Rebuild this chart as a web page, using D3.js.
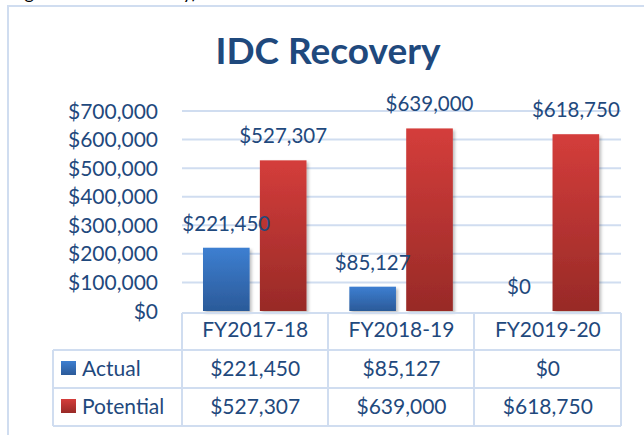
<!DOCTYPE html>
<html>
<head>
<meta charset="utf-8">
<script src="https://cdn.jsdelivr.net/npm/d3@7"></script>
<style>
  body { margin: 0; background: #fff; }
  svg { display: block; }
  text { font-family: Lato, "Open Sans", sans-serif; }
</style>
</head>
<body>
<div id="chart"></div>
<script>
// chart data
const categories = ["FY2017-18", "FY2018-19", "FY2019-20"];
const seriesNames = ["Actual", "Potential"];
const actual = [221450, 85127, 0];
const potential = [527307, 639000, 618750];
const yTicks = [0, 100000, 200000, 300000, 400000, 500000, 600000, 700000];

const W = 644, H = 435;
const textColor = "#1f497d";
const lineColor = "#d0ddf0";
const fmt = d => "$" + d3.format(",")(d);

const svg = d3.select("#chart").append("svg")
  .attr("width", W).attr("height", H);

// gradients + shadow
const defs = svg.append("defs");
function grad(id, top, bottom) {
  const g = defs.append("linearGradient").attr("id", id)
    .attr("x1", 0).attr("y1", 0).attr("x2", 0).attr("y2", 1);
  g.append("stop").attr("offset", "0%").attr("stop-color", top);
  g.append("stop").attr("offset", "100%").attr("stop-color", bottom);
}
grad("gActual", "#3d7fd1", "#2b5a99");
grad("gPotential", "#d43d3b", "#982a27");
defs.append("filter").attr("id", "shadow")
  .attr("x", "-20%").attr("y", "-10%").attr("width", "150%").attr("height", "130%")
  .append("feDropShadow")
  .attr("dx", 2).attr("dy", 2).attr("stdDeviation", 1.5)
  .attr("flood-color", "#000").attr("flood-opacity", 0.25);
const fills = { Actual: "url(#gActual)", Potential: "url(#gPotential)" };

// caption above the frame, mostly cut off by the top edge
svg.append("text")
  .attr("x", 10).attr("y", -1)
  .attr("font-size", 18).attr("fill", "#000")
  .text("Figure 6: IDC Recovery)");

// chart frame (runs off the right / bottom)
svg.append("rect")
  .attr("x", 8).attr("y", 6).attr("width", 700).attr("height", 500)
  .attr("fill", "none").attr("stroke", lineColor).attr("stroke-width", 2);

// title
svg.append("text")
  .attr("x", 328).attr("y", 64)
  .attr("text-anchor", "middle")
  .attr("font-size", 37).attr("font-weight", "bold")
  .attr("fill", textColor)
  .text("IDC Recovery");

// scales
const x0 = d3.scaleBand().domain(categories).range([182, 621]);
const x1 = d3.scaleBand().domain(seriesNames).range([21, 124.5]).paddingInner(0.18);
const y = d3.scaleLinear().domain([0, 700000]).range([311, 111]);

// gridlines
svg.append("g").selectAll("line")
  .data(yTicks.filter(d => d > 0))
  .enter().append("line")
    .attr("x1", 182).attr("x2", 621)
    .attr("y1", d => y(d)).attr("y2", d => y(d))
    .attr("stroke", lineColor).attr("stroke-width", 2);

// y axis labels
const yAxis = svg.append("g")
  .attr("transform", "translate(158,0)")
  .call(d3.axisLeft(y).tickValues(yTicks).tickFormat(fmt).tickSize(0).tickPadding(0));
yAxis.select(".domain").remove();
yAxis.selectAll("text")
  .attr("font-family", "Lato, sans-serif")
  .attr("font-size", 21).attr("fill", textColor)
  .attr("dy", "0.34em");

// bars
const rows = categories.map((c, i) => ({
  cat: c,
  vals: [{ s: "Actual", v: actual[i] }, { s: "Potential", v: potential[i] }]
}));

const groups = svg.append("g").selectAll("g")
  .data(rows).enter().append("g")
  .attr("transform", d => "translate(" + x0(d.cat) + ",0)");

groups.selectAll("rect")
  .data(d => d.vals.filter(v => v.v > 0))
  .enter().append("rect")
    .attr("x", d => x1(d.s))
    .attr("y", d => y(d.v))
    .attr("width", x1.bandwidth())
    .attr("height", d => y(0) - y(d.v))
    .attr("fill", d => fills[d.s])
    .attr("filter", "url(#shadow)");

groups.selectAll("text")
  .data(d => d.vals)
  .enter().append("text")
    .attr("x", d => x1(d.s) + x1.bandwidth() / 2)
    .attr("y", d => y(d.v) - 17)
    .attr("text-anchor", "middle")
    .attr("font-size", 20.5).attr("fill", textColor)
    .text(d => fmt(d.v));

// data table
const table = svg.append("g")
  .attr("stroke", lineColor).attr("stroke-width", 2).attr("fill", "none");
const colEdges = [182, 328, 474, 621];
table.append("line").attr("x1", 182).attr("x2", 621).attr("y1", 313).attr("y2", 313);
[350, 388, 426].forEach(yy => {
  table.append("line").attr("x1", 53).attr("x2", 621).attr("y1", yy).attr("y2", yy);
});
colEdges.forEach(xx => {
  table.append("line").attr("x1", xx).attr("x2", xx).attr("y1", 313).attr("y2", 426);
});
table.append("line").attr("x1", 53).attr("x2", 53).attr("y1", 350).attr("y2", 426);

// header labels
svg.append("g").selectAll("text")
  .data(categories).enter().append("text")
    .attr("x", d => x0(d) + x0.bandwidth() / 2)
    .attr("y", 337)
    .attr("text-anchor", "middle")
    .attr("font-size", 21).attr("fill", textColor)
    .text(d => d);

// rows
const tableRows = [
  { name: "Actual", vals: actual, base: 376, top: 361 },
  { name: "Potential", vals: potential, base: 413.5, top: 399 }
];
tableRows.forEach(r => {
  svg.append("rect")
    .attr("x", 61).attr("y", r.top).attr("width", 15).attr("height", 14)
    .attr("fill", fills[r.name]);
  svg.append("text")
    .attr("x", 82).attr("y", r.base)
    .attr("font-size", 21).attr("fill", textColor)
    .text(r.name);
  svg.append("g").selectAll("text")
    .data(r.vals).enter().append("text")
      .attr("x", (d, i) => x0(categories[i]) + x0.bandwidth() / 2)
      .attr("y", r.base)
      .attr("text-anchor", "middle")
      .attr("font-size", 21).attr("fill", textColor)
      .text(d => fmt(d));
});
</script>
</body>
</html>
